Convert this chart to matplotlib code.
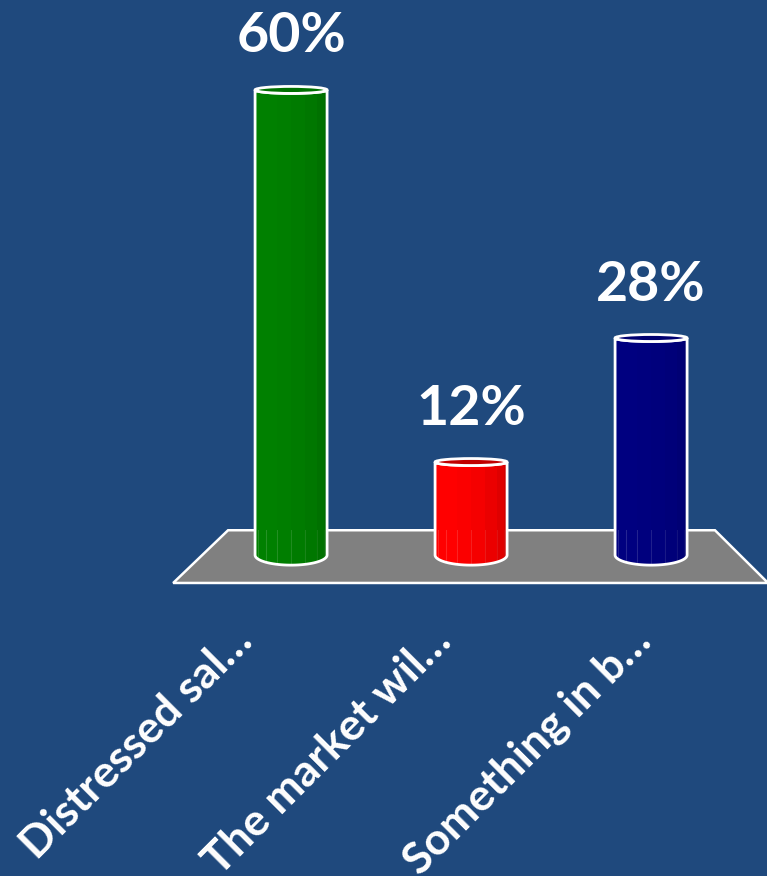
import matplotlib
matplotlib.use("Agg")
import matplotlib.pyplot as plt
from matplotlib.patches import Polygon, Ellipse, Rectangle
import numpy as np

plt.rcParams['font.family'] = ['Lato', 'DejaVu Sans']

categories = ["Distressed sal\u2026", "The market wil\u2026", "Something in b\u2026"]
values = [60, 12, 28]
bar_colors = ["#008000", "#FF0000", "#000080"]
side_colors = ["#006400", "#C00000", "#00006A"]
cap_colors = ["#007000", "#C00000", "#000070"]

bg = "#1F497D"
width = 0.4
depth = 1.3      # bottom curve depth, data units
cap_h = 0.9      # top cap ellipse height, data units
label_step = 1.105  # category labels are spread a bit wider than the bars

fig = plt.figure(figsize=(7.67, 8.76), dpi=100, facecolor=bg)
ax = fig.add_axes([0, 0, 1, 1])
ax.set_facecolor(bg)
ax.set_xlim(-1.617, 2.644)
ax.set_ylim(-41.4, 71.6)
ax.axis("off")

n = len(values)
xs = np.arange(n)

# gray floor under the bars
floor = Polygon([(-0.35, 3.2), (n - 1 + 0.355, 3.2), (n - 1 + 0.65, -3.6), (-0.655, -3.6)],
                closed=True, facecolor="#808080", edgecolor="white", lw=1.8, zorder=1)
ax.add_patch(floor)

theta = np.linspace(np.pi, 2 * np.pi, 40)
for x, v, c, sc, cc in zip(xs, values, bar_colors, side_colors, cap_colors):
    x0, x1 = x - width / 2, x + width / 2
    # body outline: left side, curved bottom, right side, front of top rim
    bottom = [(x + width / 2 * np.cos(t), depth * np.sin(t)) for t in theta]
    top = [(x + width / 2 * np.cos(t), v + cap_h / 2 * np.sin(t)) for t in theta[::-1]]
    body = Polygon([(x0, v)] + bottom + top, closed=True, facecolor=c,
                   edgecolor="none", zorder=2)
    ax.add_patch(body)

    # facet shading, darker towards the right
    edges = x + width / 2 * np.cos(np.linspace(np.pi, 2 * np.pi, 9))
    shades = [0.0, 0.0, 0.0, 0.05, 0.15, 0.3, 0.5, 0.7]
    for a, b, s in zip(edges[:-1], edges[1:], shades):
        r = Rectangle((a, -depth - 1), b - a, v + depth + 2, facecolor=sc,
                      alpha=s, edgecolor="none", zorder=3)
        r.set_clip_path(body)
        ax.add_patch(r)
        ln = ax.plot([b, b], [-depth, 3.2], color="white", alpha=0.15, lw=0.8, zorder=3)[0]
        ln.set_clip_path(body)

    outline = Polygon([(x0, v)] + bottom + top, closed=True, facecolor="none",
                      edgecolor="white", lw=2, zorder=4)
    ax.add_patch(outline)
    cap = Ellipse((x, v), width, cap_h, facecolor=cc, edgecolor="white", lw=2, zorder=5)
    ax.add_patch(cap)

    ax.annotate(f"{v}%", (x, v + cap_h / 2), xytext=(0, 18), textcoords="offset points",
                ha="center", va="bottom", color="white", fontsize=40, fontweight="bold")

for i, lab in enumerate(categories):
    ax.text(i * label_step - 0.33, -8.35, lab, rotation=45, rotation_mode="anchor",
            ha="right", va="top", color="white", fontsize=32, fontweight="bold")

fig.savefig("out.png", dpi=100, facecolor=bg)
